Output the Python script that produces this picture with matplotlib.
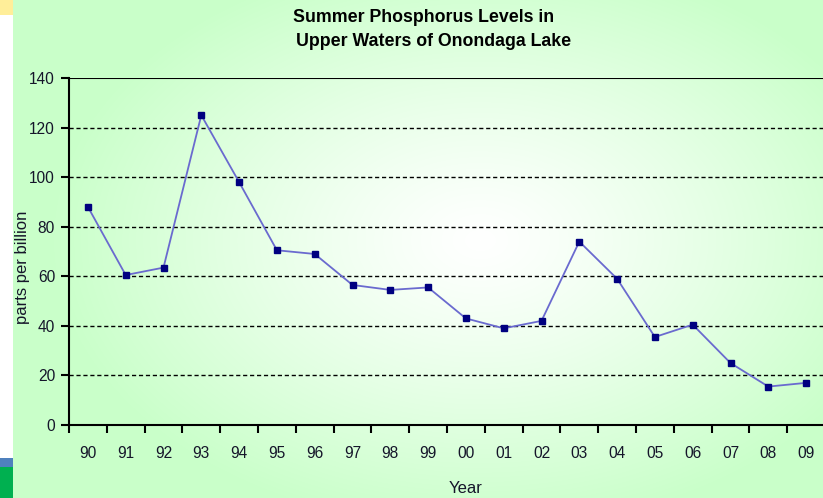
import matplotlib
matplotlib.use("Agg")
import matplotlib.pyplot as plt
import numpy as np
from matplotlib.patches import Rectangle

years = ["90", "91", "92", "93", "94", "95", "96", "97", "98", "99",
         "00", "01", "02", "03", "04", "05", "06", "07", "08", "09"]
phosphorus = [88, 60.5, 63.5, 125, 98, 70.5, 69, 56.5, 54.5, 55.5,
              43, 39, 42, 74, 59, 35.5, 40.5, 25, 15.5, 17]
yticks = [0, 20, 40, 60, 80, 100, 120, 140]

plt.rcParams['font.family'] = ['Liberation Sans', 'DejaVu Sans']

W, H = 823, 498
fig = plt.figure(figsize=(W / 100, H / 100), dpi=100)

# background gradient
bg = fig.add_axes([0, 0, 1, 1], zorder=-10)
yy, xx = np.mgrid[0:H, 0:W]
cx, cy = 480, 240
r = np.sqrt(((xx - cx) / 430.0) ** 2 + ((yy - cy) / 290.0) ** 2)
t = np.clip(r, 0, 1) ** 1.2
white = np.array([1.0, 1.0, 1.0])
green = np.array([0.79, 1.0, 0.79])
img = white[None, None, :] * (1 - t[..., None]) + green[None, None, :] * t[..., None]
bg.imshow(img, extent=[0, W, H, 0], aspect='auto')
bg.set_xlim(0, W)
bg.set_ylim(H, 0)
bg.axis('off')
bg.add_patch(Rectangle((0, 0), 13, H, color='white', lw=0))
bg.add_patch(Rectangle((0, 0), 13, 15, color='#FFEE99', lw=0))
bg.add_patch(Rectangle((0, 458), 13, 9, color='#4F81BD', lw=0))
bg.add_patch(Rectangle((0, 467), 13, 31, color='#00B050', lw=0))

left, right_px, top, bottom = 69, 825, 78, 425
ax = fig.add_axes([left / W, (H - bottom) / H, (right_px - left) / W, (bottom - top) / H])
ax.patch.set_alpha(0)
x = np.arange(len(years))
ax.plot(x, phosphorus, color='#6A6ACF', lw=1.3, marker='s', ms=4.5,
        mfc='#000080', mec='#000080', zorder=3, clip_on=False)
ax.set_xlim(-0.5, len(years) - 0.5)
ax.set_ylim(0, 140)
tc = '#15152a'
ax.set_yticks(yticks)
ax.set_yticklabels([str(v) for v in yticks], fontsize=11.2, color=tc)
ax.set_xticks(x)
ax.set_xticklabels(years, fontsize=11.2, color=tc)
ax.set_xticks(np.arange(-0.5, len(years), 1), minor=True)
ax.tick_params(axis='x', which='major', length=0, pad=15)
ax.tick_params(axis='x', which='minor', length=6, width=1.5, direction='out')
ax.tick_params(axis='y', length=6, width=1.5, direction='out', pad=4)
for v in yticks[1:-1]:
    ax.axhline(v, color='black', lw=1.0, ls=(0, (3, 2)), zorder=1)
ax.axhline(140, color='black', lw=1.5, zorder=1)
for s in ['top', 'right']:
    ax.spines[s].set_visible(False)
for s in ['left', 'bottom']:
    ax.spines[s].set_linewidth(1.5)
fig.text(23 / W, 1 - 267 / H, 'parts per billion', ha='center', va='center',
         rotation=90, fontsize=12, color=tc)
fig.text(466 / W, 1 - 488 / H, 'Year', ha='center', va='center', fontsize=12, color=tc)
fig.text(424 / W, 1 - 18 / H, 'Summer Phosphorus Levels in',
         ha='center', va='center', fontsize=12.8, fontweight='bold')
fig.text(434 / W, 1 - 42 / H, 'Upper Waters of Onondaga Lake',
         ha='center', va='center', fontsize=12.8, fontweight='bold')

fig.savefig('out.png', dpi=100)
